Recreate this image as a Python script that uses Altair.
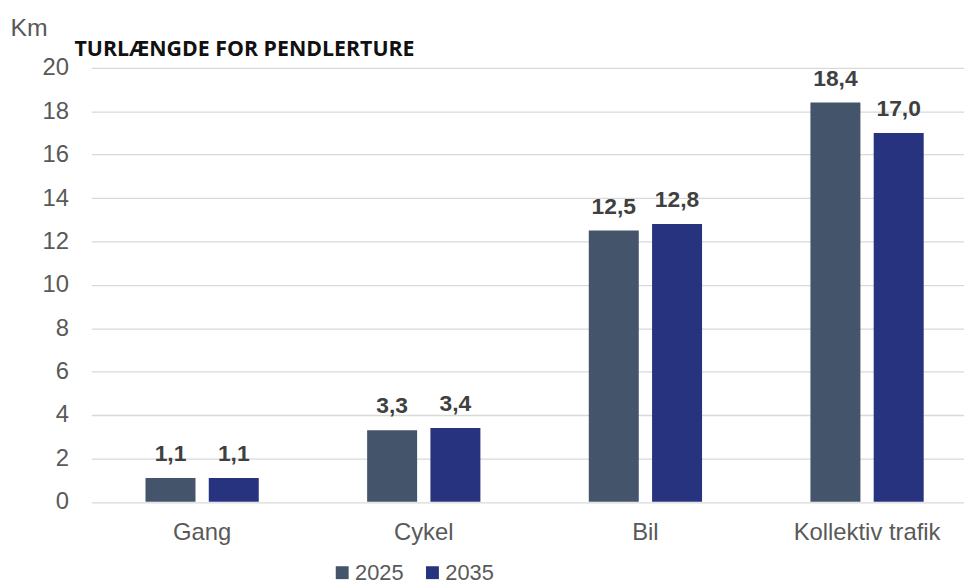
import altair as alt
import pandas as pd

categories = ["Gang", "Cykel", "Bil", "Kollektiv trafik"]
years = ["2025", "2035"]
values_2025 = [1.1, 3.3, 12.5, 18.4]
values_2035 = [1.1, 3.4, 12.8, 17.0]
y_ticks = list(range(0, 21, 2))
colors = ["#44546A", "#27337F"]

rows = []
for cat, a, b in zip(categories, values_2025, values_2035):
    for yr, v in ((years[0], a), (years[1], b)):
        rows.append({"kategori": cat, "aar": yr, "vaerdi": v,
                     "label": f"{v:.1f}".replace(".", ",")})
df = pd.DataFrame(rows)

FONT = "Liberation Sans"

base = alt.Chart(df).encode(
    x=alt.X("kategori:N", sort=categories,
            scale=alt.Scale(paddingInner=0.489, paddingOuter=0.2445, range=[0, 894]),
            axis=alt.Axis(title=None, labelFontSize=24, labelFont=FONT,
                          labelColor="#595959", labelPadding=38,
                          labelBaseline="alphabetic", ticks=False,
                          domain=False, labelAngle=0)),
    xOffset=alt.XOffset("aar:N", scale=alt.Scale(paddingInner=0.21, paddingOuter=0)),
)

bars = base.mark_bar().encode(
    y=alt.Y("vaerdi:Q", scale=alt.Scale(domain=[0, 20], nice=False),
            axis=alt.Axis(values=y_ticks, format="d", labelFontSize=24,
                          labelFont=FONT, labelColor="#595959", labelPadding=23,
                          ticks=False, domain=False, grid=True,
                          gridColor="#d9d9d9", gridWidth=1.3,
                          title="Km", titleAngle=0, titleAlign="left",
                          titleBaseline="alphabetic", titleX=-82, titleY=-33,
                          titleFontSize=25, titleFont=FONT,
                          titleFontWeight="normal", titleColor="#595959")),
    color=alt.Color("aar:N", scale=alt.Scale(domain=years, range=colors),
                    legend=alt.Legend(title=None, orient="none", legendX=242,
                                      legendY=498, direction="horizontal",
                                      symbolType="square", symbolSize=169,
                                      symbolStrokeWidth=0,
                                      labelFontSize=22, labelFont=FONT,
                                      labelColor="#595959", columnPadding=18,
                                      labelOffset=2)),
)

labels = base.mark_text(font=FONT, fontSize=23, fontWeight="bold",
                        color="#404040", baseline="alphabetic", dy=-17).encode(
    y=alt.Y("vaerdi:Q"),
    text=alt.Text("label:N"),
)

chart = alt.layer(bars, labels).properties(
    width=880,
    height=437.5,
    title=alt.TitleParams(text="TURLÆNGDE FOR PENDLERTURE", anchor="start",
                          frame="group", dx=-17, dy=72, offset=10, font="Open Sans",
                          fontSize=21.5, fontWeight="bold", color="#111111",
                          baseline="alphabetic"),
    autosize=alt.AutoSizeParams(type="none"),
    padding={"left": 84, "top": 58, "right": 0, "bottom": 80.5},
).configure_view(stroke=None)

chart.save("out.html", embed_options={"renderer": "svg", "actions": False})
